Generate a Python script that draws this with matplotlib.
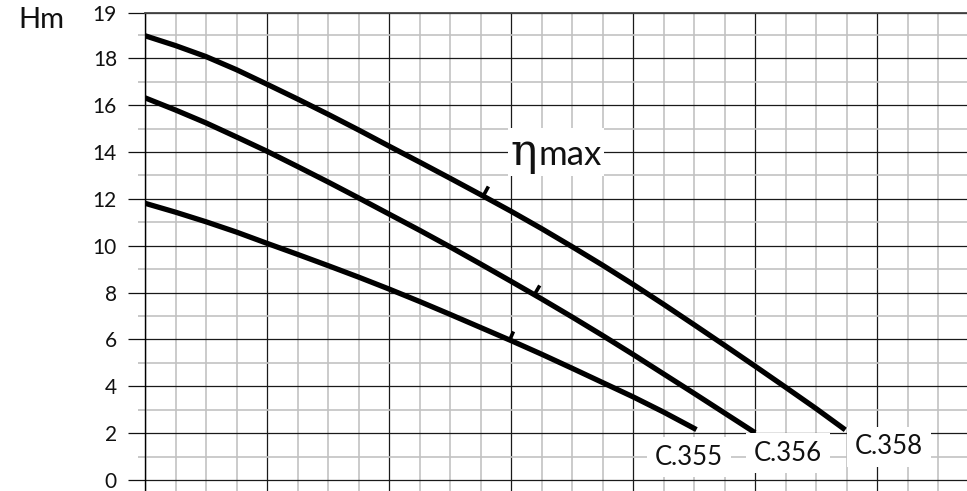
import matplotlib
matplotlib.use("Agg")
import matplotlib.pyplot as plt
import numpy as np
from matplotlib.ticker import FixedLocator, MultipleLocator
from matplotlib.offsetbox import TextArea, HPacker, AnnotationBbox
from matplotlib.markers import MarkerStyle
from matplotlib.path import Path

plt.rcParams["font.family"] = ["Lato", "DejaVu Sans"]

# ---------------- data ----------------
q_358 = [0, 0.25, 0.5, 0.75, 1.0, 1.25, 1.5, 1.75, 2.0, 2.25, 2.5, 2.75, 3.0,
         3.25, 3.5, 3.75, 4.0, 4.25, 4.5, 4.75, 5.0, 5.25, 5.5, 5.74]
h_358 = [18.96, 18.54, 18.07, 17.51, 16.89, 16.26, 15.61, 14.94, 14.25, 13.57,
         12.88, 12.18, 11.47, 10.73, 9.96, 9.17, 8.35, 7.5, 6.63, 5.75, 4.86,
         3.96, 3.05, 2.14]

q_356 = [0, 0.25, 0.5, 0.75, 1.0, 1.25, 1.5, 1.75, 2.0, 2.25, 2.5, 2.75, 3.0,
         3.25, 3.5, 3.75, 4.0, 4.25, 4.5, 4.75, 5.0]
h_356 = [16.31, 15.79, 15.24, 14.64, 14.03, 13.38, 12.72, 12.04, 11.35, 10.66,
         9.95, 9.22, 8.48, 7.73, 6.96, 6.17, 5.36, 4.53, 3.7, 2.86, 2.02]

q_355 = [0, 0.25, 0.5, 0.75, 1.0, 1.25, 1.5, 1.75, 2.0, 2.25, 2.5, 2.75, 3.0,
         3.25, 3.5, 3.75, 4.0, 4.25, 4.52]
h_355 = [11.81, 11.43, 11.02, 10.58, 10.1, 9.63, 9.15, 8.66, 8.15, 7.62, 7.07,
         6.51, 5.95, 5.37, 4.77, 4.16, 3.55, 2.9, 2.15]

curve_names = ["C.355", "C.356", "C.358"]
eta_q = [2.98, 3.19, 2.77]
eta_h = [5.98, 7.94, 12.16]

ytick_values = [0, 2, 4, 6, 8, 10, 12, 14, 16, 18]
ytick_labels = ["0", "2", "4", "6", "8", "10", "12", "14", "16", "18"]
top_label = "19"
y_unit = "Hm"

# ---------------- figure ----------------
W, H = 967, 491
fig = plt.figure(figsize=(W / 100, H / 100), dpi=100)
ax = fig.add_axes([145 / W, 0, 822 / W, 478 / H])
ymax = 19.93
ax.set_xlim(0, 822 / 122)
ax.set_ylim(-0.47, ymax)

ax.yaxis.set_major_locator(FixedLocator(ytick_values + [ymax]))
ax.set_yticklabels(ytick_labels + [top_label])
ax.yaxis.set_minor_locator(FixedLocator(list(range(1, 20, 2))))
ax.xaxis.set_major_locator(MultipleLocator(1))
ax.xaxis.set_minor_locator(MultipleLocator(0.25))
ax.tick_params(axis="x", which="both", length=0, labelbottom=False)
ax.tick_params(axis="y", which="major", length=12.2, width=0.9,
               color="#111111", pad=8, labelsize=15, labelcolor="#111111")
ax.tick_params(axis="y", which="minor", length=5, width=1.2, color="#bdbdbd")

ax.set_axisbelow(True)
ax.grid(which="minor", color="#c2c2c2", lw=1.2)
ax.grid(which="major", color="#1a1a1a", lw=0.9)

for s in ["right", "bottom"]:
    ax.spines[s].set_visible(False)
ax.spines["left"].set_color("black")
ax.spines["left"].set_linewidth(1.0)
ax.spines["top"].set_color("#444444")
ax.spines["top"].set_linewidth(1.3)

curves = [(q_355, h_355), (q_356, h_356), (q_358, h_358)]
for (q, h) in curves:
    ax.plot(q, h, color="black", lw=3.8, solid_capstyle="butt",
            solid_joinstyle="round", zorder=3)

# eta max ticks, perpendicular to curve (pointing up)
for (q, h), eq, eh in zip(curves, eta_q, eta_h):
    p1 = ax.transData.transform((eq - 0.1, np.interp(eq - 0.1, q, h)))
    p2 = ax.transData.transform((eq + 0.1, np.interp(eq + 0.1, q, h)))
    ang = np.arctan2(p2[1] - p1[1], p2[0] - p1[0]) + np.pi / 2
    path = Path([(0, 0), (np.cos(ang), np.sin(ang))])
    m = MarkerStyle(path)
    ax.plot([eq], [eh], marker=m, markersize=13, mfc="none",
            mec="black", mew=2.6, linestyle="none", zorder=3)

# curve labels
label_pos = [(4.46, 0.98), (5.27, 1.15), (6.10, 1.41)]
for name, (lx, ly) in zip(curve_names, label_pos):
    ax.text(lx, ly, name, fontsize=18.5, ha="center", va="center",
            color="#111111", zorder=4,
            bbox=dict(boxstyle="square,pad=0.3", fc="white", ec="none"))

# eta max label
ta1 = TextArea("η", textprops=dict(fontsize=32, family=["DejaVu Serif"],
                                     color="#111111"))
ta2 = TextArea("max", textprops=dict(fontsize=25, family=["Lato"],
                                       color="#111111"))
pack = HPacker(children=[ta1, ta2], align="baseline", pad=0, sep=1)
ab = AnnotationBbox(pack, (3.37, 14.0), frameon=True, pad=0.15,
                    box_alignment=(0.5, 0.5),
                    bboxprops=dict(fc="white", ec="none"), zorder=4)
ax.add_artist(ab)

fig.text(18 / W, 1 - 20 / H, y_unit, fontsize=21, ha="left", va="center",
         color="#111111")

fig.savefig("out.png", dpi=100)
